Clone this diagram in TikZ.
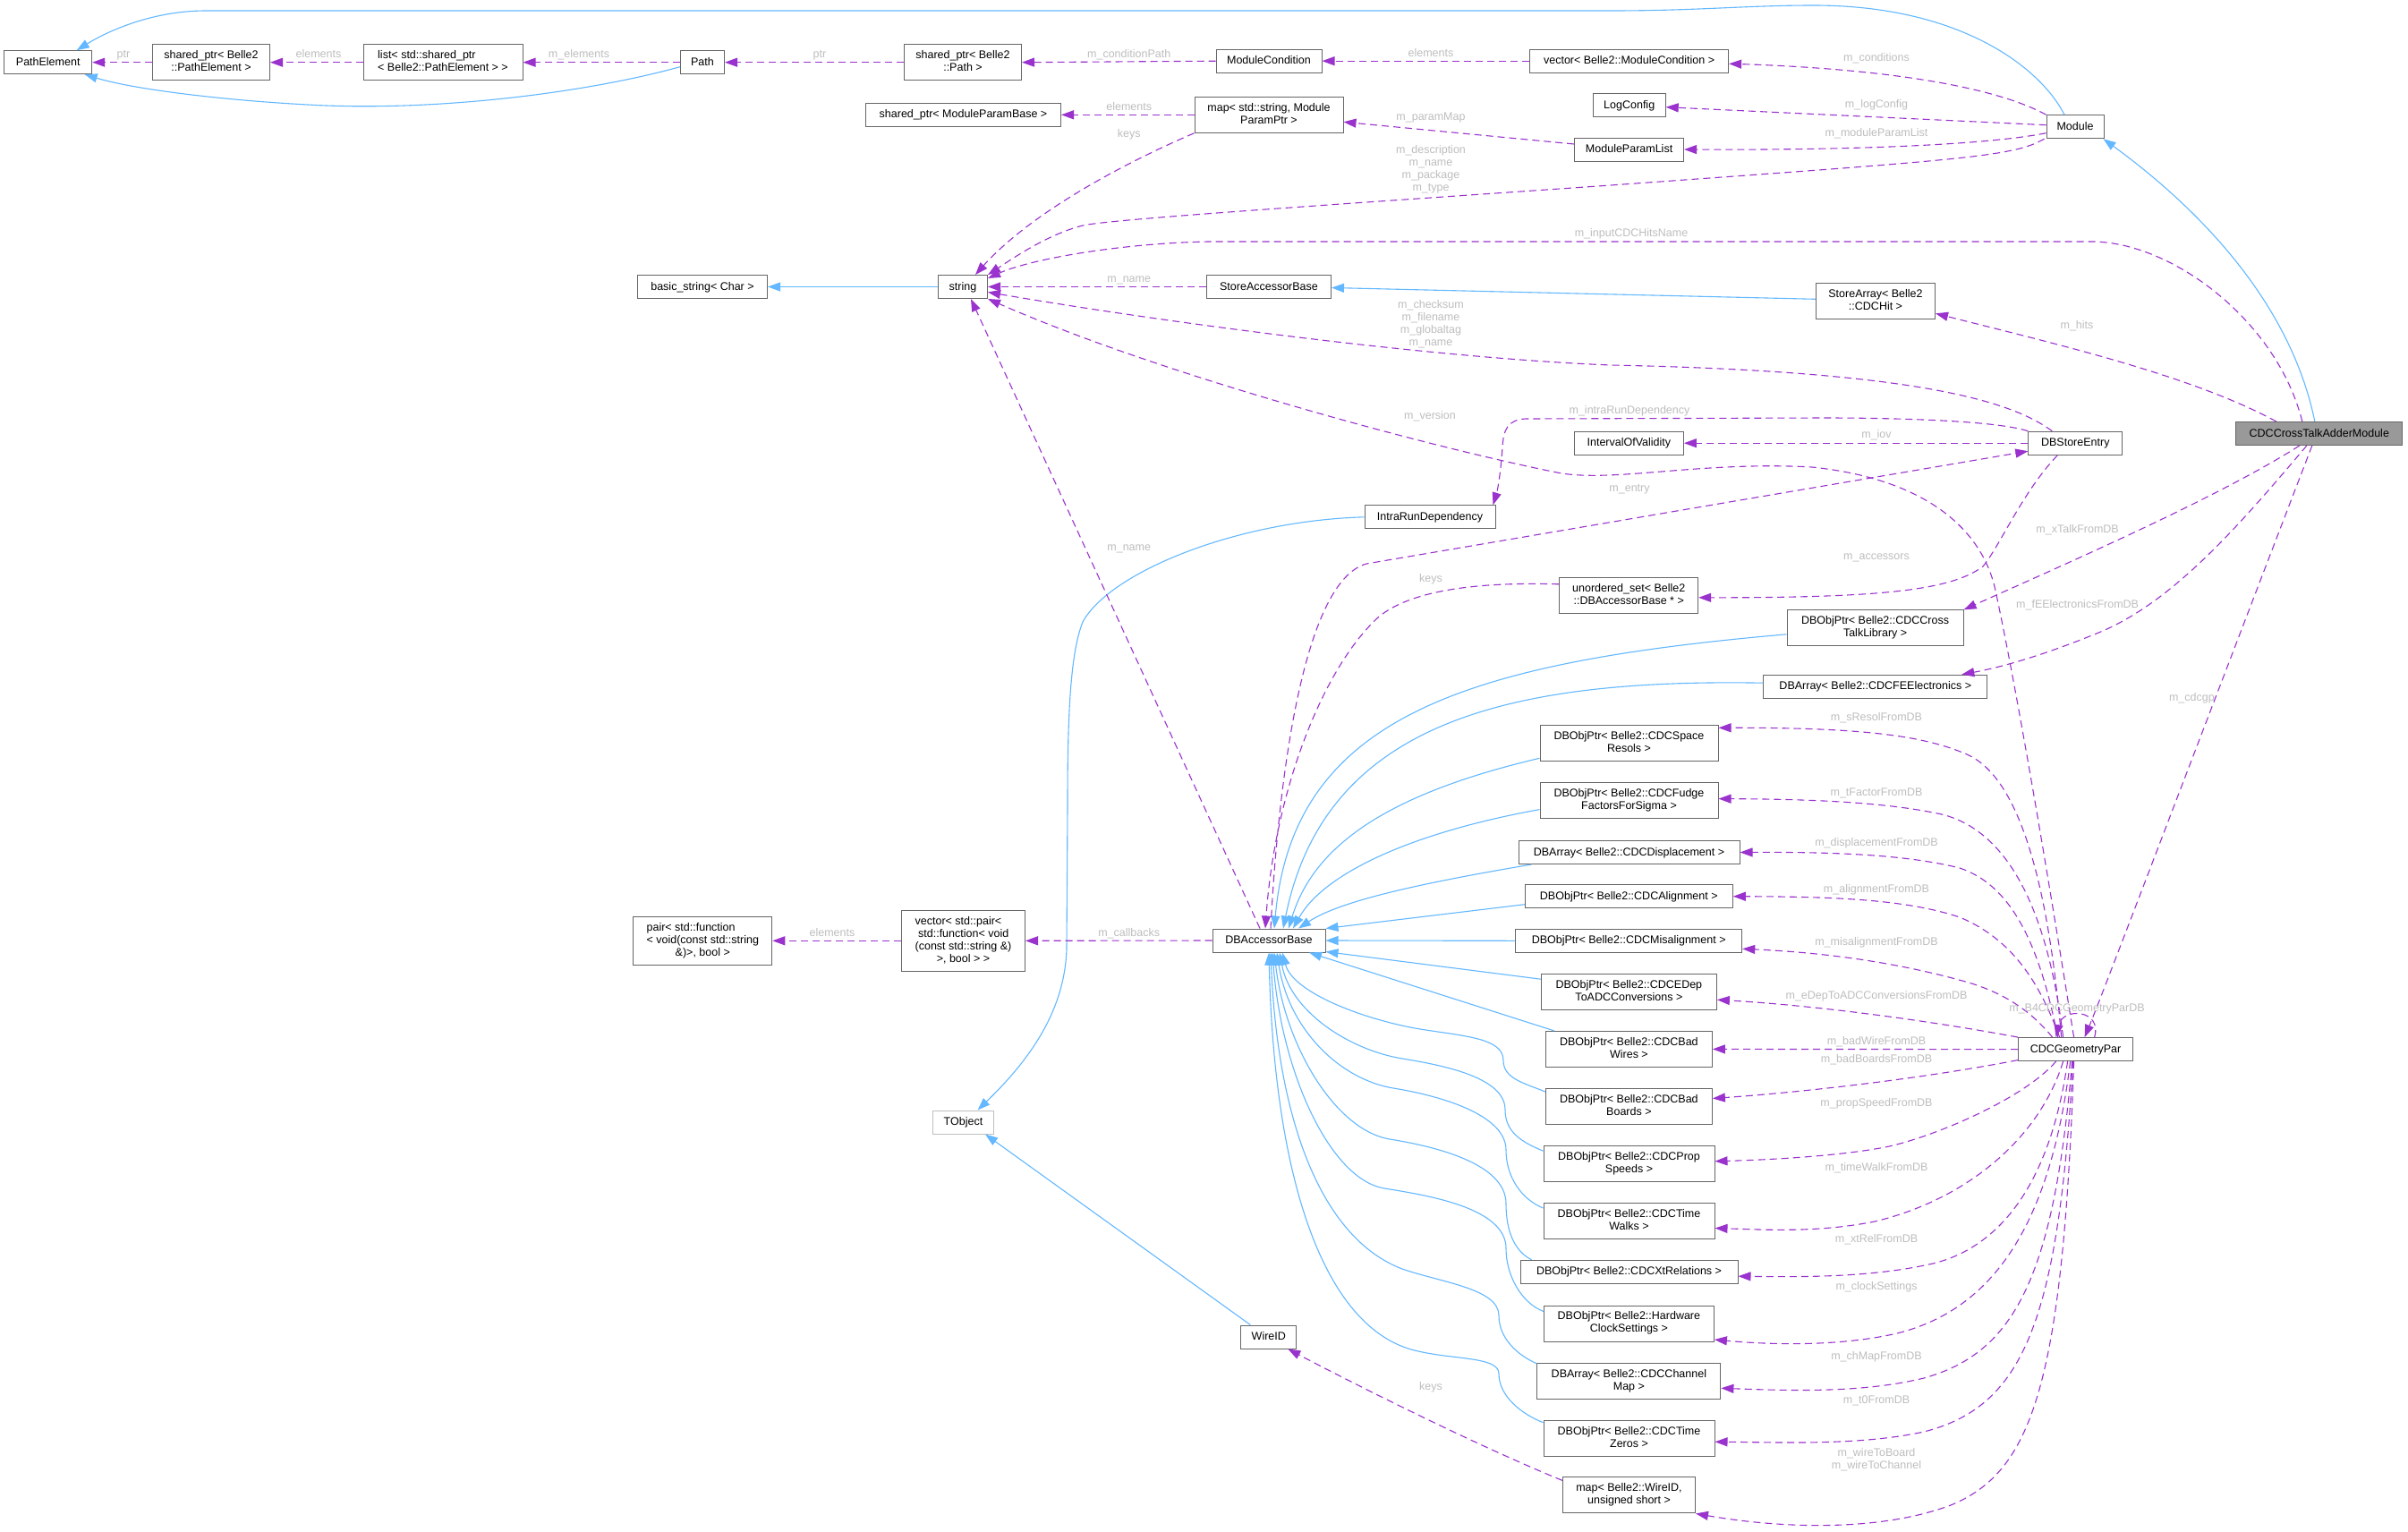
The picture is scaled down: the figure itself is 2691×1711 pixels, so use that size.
\documentclass[tikz,border=0pt]{standalone}
\usepackage{fontspec}
\setmainfont{Liberation Sans}
\usetikzlibrary{arrows.meta,calc}
\definecolor{bd}{HTML}{666666}
\definecolor{inhc}{HTML}{63B8FF}
\definecolor{usec}{HTML}{9A32CD}
\definecolor{lblc}{HTML}{BEBEBE}
\definecolor{lightbd}{HTML}{BFBFBF}
\definecolor{hl}{HTML}{999999}
\newcommand\dfont{\fontsize{12.5}{14}\selectfont}
\newcommand\mlA[2]{\begin{tabular}{@{}l@{}}#1\\\multicolumn{1}{@{}c@{}}{#2}\end{tabular}}
\newcommand\mlB[3]{\begin{tabular}{@{}l@{}}#1\\#2\\\multicolumn{1}{@{}c@{}}{#3}\end{tabular}}
\newcommand\mlC[4]{\begin{tabular}{@{}l@{}}#1\\#2\\#3\\\multicolumn{1}{@{}c@{}}{#4}\end{tabular}}
\tikzset{
  box/.style={draw=bd, line width=1pt, fill=white, inner xsep=6pt, inner ysep=6pt, minimum height=26pt, font=\dfont, text=black},
  one/.style={box, text height=9.5pt, text depth=2.5pt},
  inh/.style={draw=inhc, line width=1.1pt, -{Triangle[length=14pt,width=10pt]}},
  use/.style={draw=usec, line width=1.1pt, dash pattern=on 8pt off 5pt, -{Triangle[length=14pt,width=10pt]}},
  lbl/.style={text=lblc, font=\dfont, inner sep=0pt, text height=9pt, text depth=2.5pt},
  lblm/.style={text=lblc, font=\dfont, inner sep=0pt, align=center},
}
\begin{document}
\begin{tikzpicture}[x=1pt,y=-1pt]
\fill[white] (0,0) rectangle (2691,1711);
\useasboundingbox (0,0) rectangle (2691,1711);

% ---------------- nodes ----------------
\node[one, minimum width=98pt] (PathElement) at (53.7,69.7) {PathElement};
\node[box, minimum width=131pt] (spPE) at (236,69.7) {\mlA{shared\_ptr< Belle2}{::PathElement >}};
\node[box, minimum width=178pt] (listPE) at (495,69.7) {\mlA{list< std::shared\_ptr}{< Belle2::PathElement > >}};
\node[one, minimum width=49pt] (Path) at (785,69.7) {Path};
\node[box, minimum width=131pt] (spPath) at (1076,69.7) {\mlA{shared\_ptr< Belle2}{::Path >}};
\node[one, minimum width=118pt] (ModCond) at (1418,68.2) {ModuleCondition};
\node[one, minimum width=222pt] (vecMC) at (1820.6,68.2) {vector< Belle2::ModuleCondition >};
\node[one, minimum width=81pt] (LogConfig) at (1820.7,117.7) {LogConfig};
\node[box, minimum width=166pt] (mapPar) at (1418,128.3) {\mlA{map< std::string, Module}{ParamPtr >}};
\node[one, minimum width=218pt] (spMPB) at (1076.5,128.3) {shared\_ptr< ModuleParamBase >};
\node[one, minimum width=122pt] (MPL) at (1820.6,167) {ModuleParamList};
\node[one, minimum width=64pt] (Module) at (2319,141.7) {Module};
\node[one, minimum width=145pt] (bstr) at (785,320.5) {basic\_string< Char >};
\node[one, minimum width=55pt] (str) at (1076,320.5) {string};
\node[one, minimum width=139pt] (SAB) at (1418,320.5) {StoreAccessorBase};
\node[box, minimum width=133pt] (SArr) at (2096,336.3) {\mlA{StoreArray< Belle2}{::CDCHit >}};
\node[one, fill=hl, minimum width=186pt] (XT) at (2591.8,484.5) {CDCCrossTalkAdderModule};
\node[one, minimum width=105pt] (DSE) at (2319.3,495.2) {DBStoreEntry};
\node[one, minimum width=122pt] (IOV) at (1820.4,495.2) {IntervalOfValidity};
\node[one, minimum width=146pt] (IRD) at (1598,577.8) {IntraRunDependency};
\node[box, minimum width=155pt] (uset) at (1820.2,665.8) {\mlA{unordered\_set< Belle2}{::DBAccessorBase * >}};
\node[box, minimum width=197pt] (xtalk) at (2095.6,701.8) {\mlA{DBObjPtr< Belle2::CDCCross}{TalkLibrary >}};
\node[one, minimum width=250pt] (fee) at (2095.8,767.2) {DBArray< Belle2::CDCFEElectronics >};
\node[box, minimum width=199pt] (sres) at (1820.5,830.8) {\mlA{DBObjPtr< Belle2::CDCSpace}{Resols >}};
\node[box, minimum width=199pt] (fudge) at (1820.5,894.6) {\mlA{DBObjPtr< Belle2::CDCFudge}{FactorsForSigma >}};
\node[one, minimum width=247pt] (disp) at (1820.5,952.5) {DBArray< Belle2::CDCDisplacement >};
\node[one, minimum width=232pt] (alig) at (1820.3,1001.7) {DBObjPtr< Belle2::CDCAlignment >};
\node[one, minimum width=253pt] (misal) at (1820.2,1051.3) {DBObjPtr< Belle2::CDCMisalignment >};
\node[box, minimum width=196pt] (edep) at (1820.4,1108.2) {\mlA{DBObjPtr< Belle2::CDCEDep}{ToADCConversions >}};
\node[box, minimum width=186pt] (badw) at (1820.4,1172.4) {\mlA{DBObjPtr< Belle2::CDCBad}{Wires >}};
\node[box, minimum width=186pt] (badb) at (1820.4,1236.5) {\mlA{DBObjPtr< Belle2::CDCBad}{Boards >}};
\node[box, minimum width=191pt] (prop) at (1820.5,1300.7) {\mlA{DBObjPtr< Belle2::CDCProp}{Speeds >}};
\node[box, minimum width=191pt] (walk) at (1820.5,1364.5) {\mlA{DBObjPtr< Belle2::CDCTime}{Walks >}};
\node[one, minimum width=243pt] (xtrel) at (1820.5,1421.2) {DBObjPtr< Belle2::CDCXtRelations >};
\node[box, minimum width=190pt] (clock) at (1820.4,1479) {\mlA{DBObjPtr< Belle2::Hardware}{ClockSettings >}};
\node[box, minimum width=205pt] (chmap) at (1820.4,1543.3) {\mlA{DBArray< Belle2::CDCChannel}{Map >}};
\node[box, minimum width=191pt] (t0) at (1820.5,1607.2) {\mlA{DBObjPtr< Belle2::CDCTime}{Zeros >}};
\node[box, minimum width=148pt] (mapw) at (1820.5,1670.9) {\mlA{map< Belle2::WireID,}{unsigned short >}};
\node[one, minimum width=128pt] (geo) at (2319.6,1172.6) {CDCGeometryPar};
\node[one, minimum width=126pt] (dba) at (1418,1051) {DBAccessorBase};
\node[box, minimum width=138pt] (vecp) at (1076.5,1051.3) {\mlC{vector< std::pair<}{\ std::function< void}{(const std::string \&)}{>, bool > >}};
\node[box, minimum width=155pt] (pair) at (785.3,1051.3) {\mlB{pair< std::function}{< void(const std::string}{\&)>, bool >}};
\node[one, draw=lightbd, minimum width=68pt] (TObject) at (1076.5,1254) {TObject};
\node[one, minimum width=62pt] (WireID) at (1417.8,1494) {WireID};

% ---------------- inheritance (blue) ----------------
\draw[inh] ($(Module.north)+(-12,0)$) .. controls (2280,75) and (2190,6) .. (2027,6) .. controls (1950,6) and (1900,12) .. (1800,12) -- (230,12) .. controls (170,12) and (120,35) .. ($(PathElement.north)+(32,0)$);
\draw[inh] ($(Path.west)+(0,5)$) .. controls (650,105) and (480,125) .. (344,117) .. controls (250,112) and (150,100) .. ($(PathElement.south)+(41,0)$);
\draw[inh] (str.west) -- (bstr.east);
\draw[inh] ($(SArr.west)+(0,-2)$) -- ($(SAB.east)+(0,1)$);
\draw[inh] ($(XT.north)+(-5,0)$) .. controls (2560,340) and (2460,235) .. ($(Module.south east)+(-1,0)$);
\draw[inh] (IRD.west) .. controls (1380,582) and (1240,640) .. (1210,695) .. controls (1196,730) and (1193,800) .. (1193,900) -- (1192,1060) .. controls (1190,1130) and (1150,1185) .. ($(TObject.north)+(16,0)$);
\draw[inh] ($(WireID.north west)+(11,0)$) -- ($(TObject.south east)+(-10,0)$);

\draw[inh] ($(xtalk.west)+(0,7)$) .. controls (1640,740) and (1445,800) .. ($(dba.north)+(6,0)$);
\draw[inh] ($(fee.west)+(0,-4)$) .. controls (1680,758) and (1480,810) .. ($(dba.north)+(16,0)$);
\draw[inh] ($(sres.south west)+(0,-4)$) .. controls (1560,885) and (1470,940) .. ($(dba.north)+(22,0)$);
\draw[inh] ($(fudge.west)+(0,10)$) .. controls (1580,930) and (1480,975) .. ($(dba.north)+(27,0)$);
\draw[inh] ($(disp.south west)+(15,0)$) .. controls (1600,985) and (1500,1005) .. ($(dba.north)+(33,0)$);
\draw[inh] ($(alig.west)+(0,9)$) -- (dba.north east);
\draw[inh] (misal.west) -- (dba.east);
\draw[inh] ($(edep.west)+(0,-14)$) -- ($(dba.south east)+(0,-1)$);
\draw[inh] ($(badw.north west)+(10,0)$) -- ($(dba.south)+(45,0)$);
\draw[inh] ($(badb.north west)+(0,4)$) .. controls (1702,1210) and (1680,1205) .. (1680,1185) .. controls (1680,1160) and (1637,1158) .. (1587,1150) .. controls (1527,1140) and (1445,1110) .. ($(dba.south)+(15,0)$);
\draw[inh] ($(prop.north west)+(0,6)$) .. controls (1700,1276) and (1682,1265) .. (1682,1240) .. controls (1682,1205) and (1617,1191) .. (1567,1183) .. controls (1507,1173) and (1442,1130) .. ($(dba.south)+(12,0)$);
\draw[inh] ($(walk.north west)+(0,6)$) .. controls (1700,1340) and (1683,1315) .. (1683,1285) .. controls (1683,1245) and (1607,1224) .. (1557,1216) .. controls (1497,1206) and (1440,1150) .. ($(dba.south)+(9,0)$);
\draw[inh] ($(xtrel.north west)+(13,0)$) .. controls (1692,1398) and (1683,1375) .. (1683,1345) .. controls (1683,1300) and (1603,1281) .. (1553,1273) .. controls (1493,1263) and (1436,1170) .. ($(dba.south)+(6,0)$);
\draw[inh] ($(clock.north west)+(0,7)$) .. controls (1700,1456) and (1683,1425) .. (1683,1395) .. controls (1683,1350) and (1597,1336) .. (1547,1328) .. controls (1487,1318) and (1432,1200) .. ($(dba.south)+(4,0)$);
\draw[inh] ($(chmap.north west)+(0,1)$) .. controls (1695,1514) and (1675,1495) .. (1675,1470) .. controls (1675,1440) and (1610,1433) .. (1567,1418) .. controls (1480,1385) and (1428,1260) .. ($(dba.south)+(2,0)$);
\draw[inh] ($(t0.north west)+(0,3)$) .. controls (1700,1580) and (1675,1560) .. (1675,1535) .. controls (1675,1515) and (1620,1520) .. (1577,1508) .. controls (1480,1480) and (1424,1320) .. (dba.south);

% ---------------- usage (purple dashed) ----------------
\draw[use] (spPE.west) -- (PathElement.east);
\draw[use] (listPE.west) -- (spPE.east);
\draw[use] (Path.west) -- (listPE.east);
\draw[use] (spPath.west) -- (Path.east);
\draw[use] (ModCond.west) -- (spPath.east);
\draw[use] (vecMC.west) -- (ModCond.east);
\draw[use] (Module.north west) .. controls (2220,92) and (2080,76) .. ($(vecMC.east)+(0,3)$);
\draw[use] ($(Module.west)+(0,-2)$) -- ($(LogConfig.east)+(0,2)$);
\draw[use] ($(Module.west)+(0,7)$) .. controls (2230,160) and (2100,168) .. (MPL.east);
\draw[use] ($(Module.south west)+(-2,0)$) .. controls (2250,175) and (2200,178) .. (1800,207) .. controls (1500,228) and (1240,245) .. (1210,252) .. controls (1170,262) and (1130,290) .. (str.north east);
\draw[use] (mapPar.west) -- (spMPB.east);
\draw[use] (mapPar.south west) .. controls (1250,185) and (1150,240) .. ($(str.north)+(14,0)$);
\draw[use] ($(MPL.west)+(0,-6)$) -- ($(mapPar.east)+(0,8)$);
\draw[use] (SAB.west) -- (str.east);
\draw[use] ($(XT.north)+(-19,0)$) .. controls (2545,360) and (2430,272) .. (2340,270) -- (1350,270) .. controls (1250,272) and (1150,290) .. ($(str.north east)+(0,4)$);
\draw[use] ($(XT.north)+(-48,0)$) .. controls (2450,420) and (2300,385) .. ($(SArr.east)+(0,14)$);
\draw[use] ($(DSE.north)+(-26,0)$) .. controls (2250,450) and (2150,415) .. (1800,408) .. controls (1600,400) and (1300,360) .. ($(str.east)+(0,6)$);
\draw[use] (DSE.west) -- (IOV.east);
\draw[use] (DSE.north west) .. controls (2230,470) and (2120,467) .. (2038,467) -- (1705,468) .. controls (1685,469) and (1680,480) .. (1679,500) .. controls (1677,530) and (1673,550) .. ($(IRD.north east)+(-3,0)$);
\draw[use] ($(geo.north)+(-2,0)$) .. controls (2300,1050) and (2260,800) .. (2230,660) .. controls (2215,590) and (2150,535) .. (2025,522) .. controls (1900,515) and (1800,540) .. (1740,528) .. controls (1600,500) and (1300,420) .. (str.south east);
\draw[use] ($(dba.north)+(2,0)$) .. controls (1428,880) and (1455,650) .. (1527,630) -- ($(DSE.west)+(0,9)$);
\draw[use] ($(DSE.south)+(-20,0)$) .. controls (2260,550) and (2235,610) .. (2216,633) .. controls (2180,660) and (2100,668) .. ($(uset.east)+(0,2)$);
\draw[use] ($(uset.west)+(0,-13)$) .. controls (1650,650) and (1575,660) .. (1540,690) .. controls (1480,745) and (1425,880) .. ($(dba.north)+(-4,0)$);
\draw[use] ($(dba.north)+(-10,0)$) -- ($(str.south)+(9,0)$);
\draw[use] (dba.west) -- (vecp.east);
\draw[use] (vecp.west) -- (pair.east);
\draw[use] ($(XT.south)+(-22,0)$) .. controls (2480,555) and (2320,625) .. (xtalk.north east);
\draw[use] ($(XT.south)+(-14,0)$) .. controls (2500,590) and (2430,670) .. (2350,705) .. controls (2290,730) and (2240,745) .. ($(fee.north east)+(-29,0)$);
\draw[use] ($(XT.south)+(-8,0)$) .. controls (2460,820) and (2350,1110) .. ($(geo.north)+(10,0)$);
\draw[use] ($(geo.north)+(21,0)$) .. controls (2350,1128) and (2305,1125) .. ($(geo.north)+(-22,0)$);

\draw[use] ($(geo.north)+(-16,0)$) .. controls (2290,1000) and (2260,870) .. (2198,843) .. controls (2150,822) and (2080,813) .. ($(sres.north east)+(0,3)$);
\draw[use] ($(geo.north)+(-14,0)$) .. controls (2290,1030) and (2250,930) .. (2170,910) .. controls (2110,897) and (2030,893) .. ($(fudge.east)+(0,-2)$);
\draw[use] ($(geo.north)+(-20,0)$) .. controls (2280,1060) and (2250,990) .. (2190,970) .. controls (2130,955) and (2050,952) .. (disp.east);
\draw[use] ($(geo.north)+(-18,0)$) .. controls (2280,1100) and (2250,1050) .. (2190,1025) .. controls (2130,1005) and (2050,1002) .. (alig.east);
\draw[use] ($(geo.north)+(-26,0)$) .. controls (2270,1130) and (2240,1110) .. (2200,1098) .. controls (2130,1078) and (2050,1065) .. ($(misal.east)+(0,9)$);
\draw[use] (geo.north west) .. controls (2180,1145) and (2050,1125) .. ($(edep.east)+(0,9)$);
\draw[use] (geo.west) -- (badw.east);
\draw[use] ($(geo.west)+(0,12)$) .. controls (2150,1205) and (2020,1220) .. ($(badb.east)+(0,-9)$);
\draw[use] ($(geo.south)+(-22,0)$) .. controls (2260,1230) and (2150,1275) .. (2101,1283) .. controls (2050,1292) and (1980,1296) .. ($(prop.east)+(0,-3)$);
\draw[use] ($(geo.south)+(-14,0)$) .. controls (2280,1270) and (2200,1340) .. (2095,1365) .. controls (2030,1378) and (1970,1374) .. ($(walk.east)+(0,8)$);
\draw[use] ($(geo.south)+(-9,0)$) .. controls (2290,1330) and (2230,1395) .. (2160,1412) .. controls (2090,1428) and (2010,1427) .. ($(xtrel.east)+(0,5)$);
\draw[use] ($(geo.south)+(-6,0)$) .. controls (2290,1380) and (2220,1465) .. (2120,1490) .. controls (2050,1506) and (1970,1502) .. ($(clock.east)+(0,18)$);
\draw[use] ($(geo.south)+(-4,0)$) .. controls (2295,1430) and (2250,1512) .. (2150,1540) .. controls (2080,1557) and (2000,1554) .. ($(chmap.east)+(0,8)$);
\draw[use] ($(geo.south)+(-3,0)$) .. controls (2300,1480) and (2260,1572) .. (2150,1600) .. controls (2080,1615) and (2000,1612) .. ($(t0.east)+(0,4)$);
\draw[use] ($(geo.south)+(-2,0)$) .. controls (2305,1550) and (2270,1645) .. (2180,1682) .. controls (2100,1712) and (1990,1708) .. (mapw.south east);
\draw[use] ($(mapw.north west)+(0,4)$) .. controls (1650,1615) and (1520,1550) .. ($(WireID.south east)+(-10,0)$);

% ---------------- labels ----------------
\node[lbl] (t1) at (138,61.7) {ptr};
\node[lbl] (t2) at (356,61.7) {elements};
\node[lbl] (t3) at (647,61.7) {m\_elements};
\node[lbl] (t4) at (916,61.7) {ptr};
\node[lbl] (t5) at (1261.7,61.7) {m\_conditionPath};
\node[lbl] (t6) at (1599,60.7) {elements};
\node[lbl] (t7) at (2097,65.7) {m\_conditions};
\node[lbl] (t8) at (2097,117.7) {m\_logConfig};
\node[lbl] (t9) at (2097,149.7) {m\_moduleParamList};
\node[lbl] (t10) at (1261.7,120) {elements};
\node[lbl] (t11) at (1261.7,150.7) {keys};
\node[lbl] (t12) at (1599,131) {m\_paramMap};
\node[lblm] (t13) at (1599,189) {m\_description\\m\_name\\m\_package\\m\_type};
\node[lbl] (t14) at (1823,261.7) {m\_inputCDCHitsName};
\node[lbl] (t15) at (1261.7,312.3) {m\_name};
\node[lblm] (t16) at (1599,362) {m\_checksum\\m\_filename\\m\_globaltag\\m\_name};
\node[lbl] (t17) at (2321,364.3) {m\_hits};
\node[lbl] (t18) at (1598,465.3) {m\_version};
\node[lbl] (t19) at (1821,459.3) {m\_intraRunDependency};
\node[lbl] (t20) at (2097,486.7) {m\_iov};
\node[lbl] (t21) at (1821,546) {m\_entry};
\node[lbl] (t22) at (2097,622.7) {m\_accessors};
\node[lbl] (t23) at (1599,647.3) {keys};
\node[lbl] (t24) at (1261.7,612.3) {m\_name};
\node[lbl] (t25) at (2321.6,592.7) {m\_xTalkFromDB};
\node[lbl] (t26) at (2321.6,676.5) {m\_fEElectronicsFromDB};
\node[lbl] (t27) at (2449.4,780.7) {m\_cdcgp};
\node[lbl] (t28) at (2097,802.7) {m\_sResolFromDB};
\node[lbl] (t29) at (2097,886.7) {m\_tFactorFromDB};
\node[lbl] (t30) at (2097,942.4) {m\_displacementFromDB};
\node[lbl] (t31) at (2097,994.7) {m\_alignmentFromDB};
\node[lbl] (t32) at (2097,1053) {m\_misalignmentFromDB};
\node[lbl] (t33) at (2097,1113.1) {m\_eDepToADCConversionsFromDB};
\node[lbl] (t34) at (2321,1127.1) {m\_B4CDCGeometryParDB};
\node[lbl] (t35) at (2097,1164.4) {m\_badWireFromDB};
\node[lbl] (t36) at (2097,1184) {m\_badBoardsFromDB};
\node[lbl] (t37) at (2097,1233.2) {m\_propSpeedFromDB};
\node[lbl] (t38) at (2097,1305.6) {m\_timeWalkFromDB};
\node[lbl] (t39) at (2097,1385.3) {m\_xtRelFromDB};
\node[lbl] (t40) at (2097,1438) {m\_clockSettings};
\node[lbl] (t41) at (2097,1516.1) {m\_chMapFromDB};
\node[lbl] (t42) at (2097,1565.3) {m\_t0FromDB};
\node[lblm] (t43) at (2097,1631) {m\_wireToBoard\\m\_wireToChannel};
\node[lbl] (t44) at (1261.7,1042.8) {m\_callbacks};
\node[lbl] (t45) at (930,1042.8) {elements};
\node[lbl] (t46) at (1599,1549.8) {keys};
\end{tikzpicture}
\end{document}
